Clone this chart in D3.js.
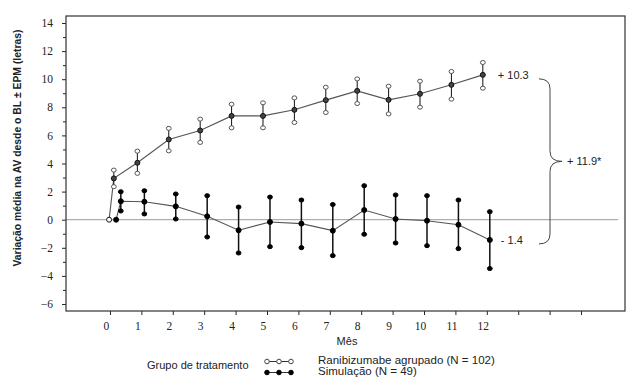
<!DOCTYPE html>
<html>
<head>
<meta charset="utf-8">
<script src="https://cdn.jsdelivr.net/npm/d3@7"></script>
<style>
  body { margin: 0; background: #fff; }
  svg { display: block; }
  .tick line { stroke: #222; }
  .lbl { font-family: "Liberation Sans", Arial, sans-serif; font-size: 11px; fill: #222; }
</style>
</head>
<body>
<svg id="chart" width="636" height="390"></svg>
<script>
'use strict';

// Months of each visit (baseline, week 1, then months 1 to 12)
const months = [0.1, 0.25, 1, 2, 3, 4, 5, 6, 7, 8, 9, 10, 11, 12];

// Ranibizumabe agrupado: mean and mean +/- SEM
const raniMean  = [0, 2.94, 4.05, 5.71, 6.35, 7.39, 7.39, 7.82, 8.51, 9.17, 8.53, 8.96, 9.60, 10.31];
const raniUpper = [null, 3.53, 4.88, 6.50, 7.16, 8.22, 8.32, 8.67, 9.43, 10.02, 9.50, 9.86, 10.55, 11.19];
const raniLower = [null, 2.35, 3.30, 4.90, 5.50, 6.54, 6.54, 6.92, 7.63, 8.27, 7.53, 8.01, 8.58, 9.36];

// Simulação: mean and mean +/- SEM
const shamMean  = [0, 1.31, 1.28, 0.95, 0.24, -0.75, -0.16, -0.28, -0.78, 0.69, 0.05, -0.07, -0.36, -1.44];
const shamUpper = [null, 1.99, 2.06, 1.83, 1.71, 0.90, 1.61, 1.40, 1.08, 2.42, 1.76, 1.71, 1.40, 0.57];
const shamLower = [null, 0.62, 0.41, 0.05, -1.23, -2.37, -1.92, -1.99, -2.56, -1.04, -1.66, -1.85, -2.06, -3.48];

// Axis ticks
const xTicks = [0, 1, 2, 3, 4, 5, 6, 7, 8, 9, 10, 11, 12, 13, 14, 15];
const xTickLabels = ['0', '1', '2', '3', '4', '5', '6', '7', '8', '9', '10', '11', '12', '', '', ''];
const yMajorTicks = [-6, -4, -2, 0, 2, 4, 6, 8, 10, 12, 14];
const yMinorTicks = [-5, -3, -1, 1, 3, 5, 7, 9, 11, 13];

// Annotations
const raniFinalLabel = '+ 10.3';
const shamFinalLabel = '- 1.4';
const diffLabel = '+ 11.9*';

const svg = d3.select('#chart');
const plot = { left: 66, top: 16, right: 625, bottom: 311 };

const x = d3.scaleLinear().domain([-1.4, 16.4]).range([plot.left, plot.right]);
const y = d3.scaleLinear().domain([-6.5, 14.5]).range([plot.bottom, plot.top]);

// Horizontal dodge of the two groups (pixels)
const raniShift = -4;
const shamShift = 3;

const serif = '"Liberation Serif", "Times New Roman", serif';

// Zero reference line
svg.append('line')
   .attr('x1', plot.left).attr('x2', plot.right - 7)
   .attr('y1', y(0)).attr('y2', y(0))
   .attr('stroke', '#9a9a9a').attr('stroke-width', 1);

// Y axis, major and minor ticks
svg.append('g')
   .attr('transform', `translate(${plot.left},0)`)
   .call(d3.axisLeft(y).tickValues(yMajorTicks).tickSize(4).tickPadding(9).tickFormat(d3.format('d')))
   .call(g => g.select('.domain').remove())
   .call(g => g.selectAll('.tick text')
               .attr('font-family', serif).attr('font-size', 11.5).attr('fill', '#222'));
svg.append('g')
   .attr('transform', `translate(${plot.left},0)`)
   .call(d3.axisLeft(y).tickValues(yMinorTicks).tickSize(3).tickFormat(''))
   .call(g => g.select('.domain').remove());

// X axis
svg.append('g')
   .attr('transform', `translate(0,${plot.bottom})`)
   .call(d3.axisBottom(x).tickValues(xTicks).tickSize(4).tickPadding(7)
           .tickFormat((d, i) => xTickLabels[i]))
   .call(g => g.select('.domain').remove())
   .call(g => g.selectAll('.tick text')
               .attr('dx', -4)
               .attr('font-family', serif).attr('font-size', 11.5).attr('fill', '#222'));

// Frame
svg.append('rect')
   .attr('x', plot.left).attr('y', plot.top)
   .attr('width', plot.right - plot.left).attr('height', plot.bottom - plot.top)
   .attr('fill', 'none').attr('stroke', '#333').attr('stroke-width', 1.2);

const line = d3.line()
   .x(d => d.x)
   .y(d => y(d.v));

function drawSeries(means, uppers, lowers, shift, style) {
    const pts = months.map((m, i) => ({ x: x(m) + shift, v: means[i], hi: uppers[i], lo: lowers[i], i }));
    const g = svg.append('g');

    g.append('path')
     .datum(pts)
     .attr('d', line)
     .attr('fill', 'none')
     .attr('stroke', '#555')
     .attr('stroke-width', 1.1);

    const bars = pts.filter(d => d.hi != null);
    g.selectAll('line.err')
     .data(bars)
     .enter()
     .append('line')
       .attr('class', 'err')
       .attr('x1', d => d.x).attr('x2', d => d.x)
       .attr('y1', d => y(d.hi)).attr('y2', d => y(d.lo))
       .attr('stroke', '#111')
       .attr('stroke-width', style.barWidth);

    const ends = bars.flatMap(d => [{ x: d.x, v: d.hi }, { x: d.x, v: d.lo }]);
    g.selectAll('ellipse.end')
     .data(ends)
     .enter()
     .append('ellipse')
       .attr('class', 'end')
       .attr('cx', d => d.x).attr('cy', d => y(d.v))
       .attr('rx', style.endR).attr('ry', style.endR * 0.85)
       .attr('fill', style.endFill)
       .attr('stroke', style.endStroke)
       .attr('stroke-width', 1);

    g.selectAll('circle.mean')
     .data(pts)
     .enter()
     .append('circle')
       .attr('class', 'mean')
       .attr('cx', d => d.x).attr('cy', d => y(d.v))
       .attr('r', style.meanR)
       .attr('fill', d => d.i === 0 ? style.baseFill : style.meanFill)
       .attr('stroke', style.meanStroke)
       .attr('stroke-width', 1);
}

const raniStyle = { barWidth: 1, endR: 2.4, endFill: '#fff', endStroke: '#555',
                    meanR: 2.5, meanFill: '#444', meanStroke: '#111', baseFill: '#fff' };
const shamStyle = { barWidth: 1.5, endR: 2.4, endFill: '#000', endStroke: '#000',
                    meanR: 2.5, meanFill: '#000', meanStroke: '#000', baseFill: '#000' };

drawSeries(raniMean, raniUpper, raniLower, raniShift, raniStyle);
drawSeries(shamMean, shamUpper, shamLower, shamShift, shamStyle);

// Final value labels
const lastIdx = months.length - 1;
svg.append('text').attr('class', 'lbl')
   .attr('x', x(months[lastIdx]) + 11).attr('y', y(raniMean[lastIdx]) + 4)
   .text(raniFinalLabel);
svg.append('text').attr('class', 'lbl')
   .attr('x', x(months[lastIdx]) + 14).attr('y', y(shamMean[lastIdx]) + 4)
   .text(shamFinalLabel);

// Curly brace between the two final means
const bTop = y(raniMean[lastIdx]) + 4;
const bBot = y(shamMean[lastIdx]) + 4;
const bMid = (bTop + bBot) / 2;
const bx0 = 539, bx1 = 550, bx2 = 562;
const brace = d3.path();
brace.moveTo(bx0, bTop);
brace.quadraticCurveTo(bx1, bTop, bx1, bTop + 10);
brace.lineTo(bx1, bMid - 10);
brace.quadraticCurveTo(bx1, bMid, bx2, bMid);
brace.quadraticCurveTo(bx1, bMid, bx1, bMid + 10);
brace.lineTo(bx1, bBot - 10);
brace.quadraticCurveTo(bx1, bBot, bx0, bBot);
svg.append('path')
   .attr('d', brace.toString())
   .attr('fill', 'none')
   .attr('stroke', '#444')
   .attr('stroke-width', 1);

svg.append('text').attr('class', 'lbl')
   .attr('x', bx2 + 5).attr('y', bMid + 4)
   .text(diffLabel);

// Axis titles
svg.append('text').attr('class', 'lbl')
   .attr('transform', `translate(21,148) rotate(-90)`)
   .attr('text-anchor', 'middle')
   .style('font-weight', 'bold')
   .style('font-size', '10.4px')
   .text('Variação média na AV desde o BL ± EPM (letras)');

svg.append('text').attr('class', 'lbl')
   .attr('x', 347).attr('y', 345)
   .attr('text-anchor', 'middle')
   .text('Mês');

// Legend
svg.append('text').attr('class', 'lbl')
   .attr('x', 147).attr('y', 369)
   .text('Grupo de tratamento');

const legendX = [267, 279, 291];
const legendRows = [
    { yPos: 361.5, fill: '#fff', stroke: '#444', text: 'Ranibizumabe agrupado (N = 102)', ty: 364 },
    { yPos: 372.5, fill: '#000', stroke: '#000', text: 'Simulação (N = 49)', ty: 375 }
];
legendRows.forEach(row => {
    svg.append('line')
       .attr('x1', legendX[0]).attr('x2', legendX[2])
       .attr('y1', row.yPos).attr('y2', row.yPos)
       .attr('stroke', '#333').attr('stroke-width', 1);
    svg.selectAll(null)
       .data(legendX)
       .enter()
       .append('circle')
         .attr('cx', d => d).attr('cy', row.yPos)
         .attr('r', 2.3)
         .attr('fill', row.fill)
         .attr('stroke', row.stroke);
    svg.append('text').attr('class', 'lbl')
       .attr('x', 318).attr('y', row.ty)
       .style('font-size', '11.5px')
       .text(row.text);
});
</script>
</body>
</html>
